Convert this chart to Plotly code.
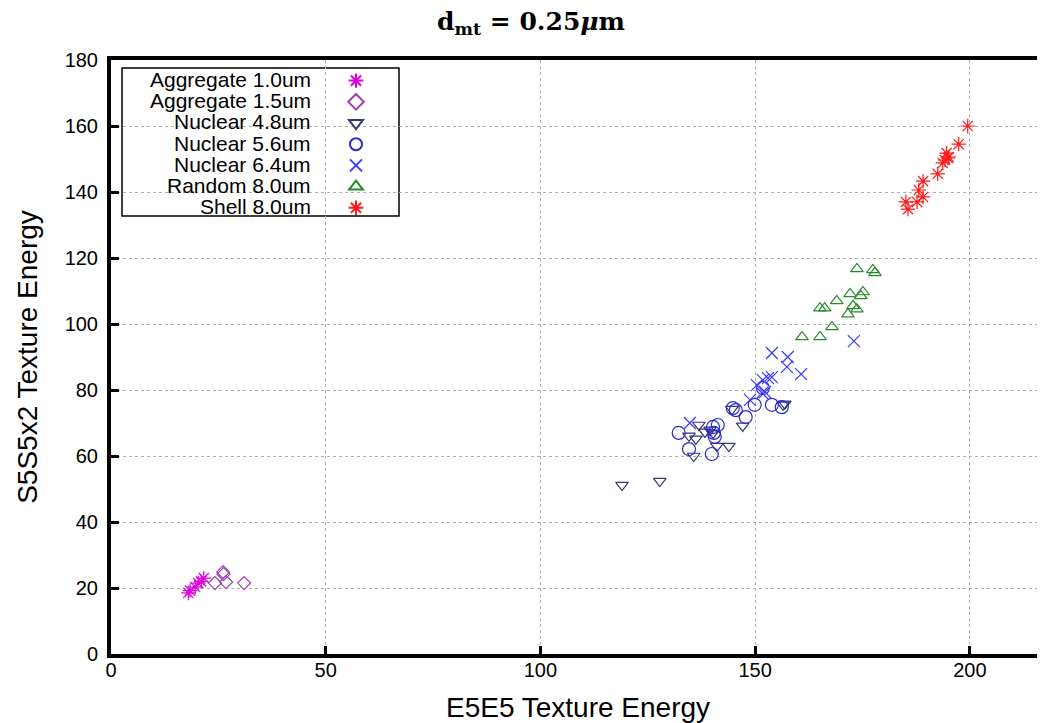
import plotly.graph_objects as go

# ---- data ----
agg10_x = [18.0, 18.4, 19.6, 20.3, 21.0, 21.6]
agg10_y = [18.5, 19.2, 20.3, 21.5, 22.0, 23.0]

agg15_x = [24.2, 26.1, 26.2, 26.8, 31.0]
agg15_y = [21.5, 24.8, 24.2, 21.8, 21.5]

nuc48_x = [119.0, 127.8, 135.7, 134.6, 136.2, 136.9, 138.3, 139.5, 140.2, 141.1, 143.9, 144.6, 147.1, 156.5, 156.9]
nuc48_y = [51.2, 52.4, 60.0, 66.1, 65.2, 69.4, 67.3, 67.9, 67.0, 63.0, 63.0, 74.2, 69.1, 75.5, 75.8]

nuc56_x = [132.2, 134.6, 139.9, 140.2, 141.3, 140.6, 140.4, 144.8, 145.5, 147.8, 149.9, 151.8, 153.9, 156.2]
nuc56_y = [67.0, 62.1, 60.6, 68.8, 69.4, 65.8, 67.0, 74.5, 73.9, 71.8, 75.5, 80.6, 75.5, 74.8]

nuc64_x = [134.8, 148.8, 150.4, 151.8, 153.0, 153.9, 152.3, 151.6, 153.9, 157.6, 157.4, 160.7, 173.0]
nuc64_y = [70.0, 77.0, 81.5, 83.0, 83.6, 83.9, 79.4, 79.1, 91.2, 90.0, 87.0, 84.8, 94.8]

rand80_x = [160.9, 165.1, 167.9, 165.1, 166.2, 169.0, 171.6, 172.8, 173.7, 172.1, 174.6, 175.1, 173.7, 177.4, 177.9]
rand80_y = [96.1, 96.1, 99.1, 104.8, 104.8, 107.0, 103.0, 105.5, 104.5, 109.1, 108.5, 109.7, 116.7, 116.4, 115.5]

shell80_x = [199.5, 197.4, 194.6, 195.1, 194.9, 194.2, 193.7, 192.5, 189.1, 188.1, 189.1, 187.7, 185.1, 185.6]
shell80_y = [160.0, 154.5, 151.8, 150.6, 150.3, 149.7, 148.8, 145.5, 143.3, 140.6, 138.5, 137.0, 137.0, 134.8]

series_names = ["Aggregate 1.0um", "Aggregate 1.5um", "Nuclear 4.8um", "Nuclear 5.6um",
                "Nuclear 6.4um", "Random 8.0um", "Shell 8.0um"]
series_x = [agg10_x, agg15_x, nuc48_x, nuc56_x, nuc64_x, rand80_x, shell80_x]
series_y = [agg10_y, agg15_y, nuc48_y, nuc56_y, nuc64_y, rand80_y, shell80_y]
symbols = ["asterisk-open", "diamond-open", "triangle-down-open", "circle-open",
           "x-thin-open", "triangle-up-open", "asterisk-open"]
colors = ["#dd00dd", "#a040b0", "#353575", "#2a2ad0", "#3a3aff", "#2a8a2a", "#ff1a1a"]
sizes = [12, 10, 11, 13, 12, 11, 12]

x_ticks = [0, 50, 100, 150, 200]
y_ticks = [0, 20, 40, 60, 80, 100, 120, 140, 160, 180]

# layout geometry: the page body adds an 8px offset, so work in page pixels
OFF = 8
PAGE_W, PAGE_H = 1045, 723
W, H = PAGE_W - OFF, PAGE_H - OFF
L, R, T, B = 111 - OFF, 0, 60 - OFF, PAGE_H - 654
PW, PH = W - L - R, H - T - B

def px_x(p):
    return (p - OFF - L) / PW

def px_y(p):
    return (H - B - (p - OFF)) / PH

fig = go.Figure()
for name, xs, ys, sym, col, sz in zip(series_names, series_x, series_y, symbols, colors, sizes):
    fig.add_trace(go.Scatter(
        x=xs, y=ys, mode="markers", name=" ",
        hovertext=name,
        marker=dict(symbol=sym, size=sz, color=col, line=dict(width=1.2, color=col)),
    ))

font_family = "Liberation Sans, Arial, sans-serif"

# legend: text labels right-aligned, symbols (native legend) on the right
row_px = [80 + 21 * i for i in range(len(series_names))]
annotations = []
for name, py in zip(series_names, row_px):
    annotations.append(dict(
        text=name, xref="paper", yref="paper", x=px_x(313), y=px_y(py),
        xanchor="right", yanchor="middle", showarrow=False,
        font=dict(family=font_family, size=21, color="black"),
    ))

shapes = [dict(
    type="rect", xref="paper", yref="paper",
    x0=px_x(122), x1=px_x(399), y0=px_y(216), y1=px_y(68),
    line=dict(color="black", width=1.5), fillcolor="white", layer="below",
)]

fig.update_layout(
    width=W, height=H,
    margin=dict(l=L, r=R, t=T, b=B, autoexpand=False),
    paper_bgcolor="white", plot_bgcolor="white",
    font=dict(family=font_family, color="black"),
    title=dict(
        text="<b>d<sub>mt</sub> = 0.25<i>μ</i>m</b>",
        x=(531 - OFF) / W, xanchor="center", y=1 - (21 - OFF) / H, yanchor="middle",
        font=dict(family="DejaVu Serif, Liberation Serif, serif", size=25, color="black"),
    ),
    showlegend=True,
    legend=dict(
        x=px_x(336), y=px_y(65), xanchor="left", yanchor="top",
        bgcolor="rgba(0,0,0,0)", borderwidth=0,
        font=dict(family=font_family, size=14, color="black"),
        tracegroupgap=0, itemsizing="constant",
    ),
    annotations=annotations,
    shapes=shapes,
    xaxis=dict(
        range=[0, 217.5], tickvals=x_ticks, ticktext=[str(v) for v in x_ticks],
        showline=True, linecolor="black", linewidth=4, mirror=True,
        ticks="inside", ticklen=8, tickwidth=3, tickcolor="black",
        showgrid=True, gridcolor="#b0b0b0", griddash="dot", gridwidth=1,
        zeroline=False, tickfont=dict(size=20, family=font_family),
        ticklabelstandoff=-5, automargin=False,
        title=dict(text="E5E5 Texture Energy", font=dict(size=28, family=font_family), standoff=20),
    ),
    yaxis=dict(
        range=[0, 180], tickvals=y_ticks, ticktext=[str(v) for v in y_ticks],
        showline=True, linecolor="black", linewidth=4, mirror=False,
        ticks="inside", ticklen=8, tickwidth=3, tickcolor="black",
        showgrid=True, gridcolor="#b0b0b0", griddash="dot", gridwidth=1,
        zeroline=False, tickfont=dict(size=20, family=font_family),
        ticklabelstandoff=5, automargin=False,
        title=dict(text="S5S5x2 Texture Energy", font=dict(size=28, family=font_family), standoff=20),
    ),
)

fig.write_html("out.html")
